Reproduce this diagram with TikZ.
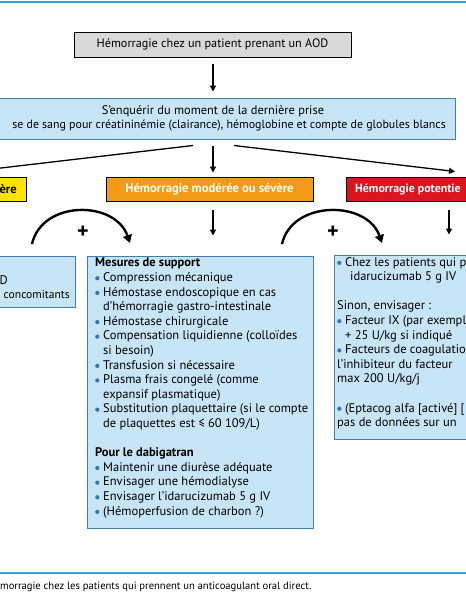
\documentclass[tikz,border=0pt]{standalone}
\usepackage{fontspec}
\setmainfont{PT Sans}
\usetikzlibrary{arrows.meta,positioning}
\definecolor{rulecol}{HTML}{2AA6DA}
\definecolor{grayfill}{HTML}{D9D9D9}
\definecolor{boxfill}{HTML}{C8E5F7}
\definecolor{boxline}{HTML}{3F7DB3}
\definecolor{bulcol}{HTML}{2A78BD}
\definecolor{lightcol}{HTML}{FFE300}
\definecolor{modcol}{HTML}{F39B16}
\definecolor{sevcol}{HTML}{D9161F}
\newcommand{\itm}{\makebox[8pt][l]{\raisebox{1.2pt}{\tikz\fill[bulcol] (0,0) circle (2.1pt);}}}
\newcommand{\ind}{\hspace*{8pt}}

\begin{document}
\begin{tikzpicture}[x=1pt, y=-1pt,
  box/.style={draw=boxline, fill=boxfill, line width=1pt, inner sep=0pt},
  lvl/.style={draw=black, line width=1pt, inner sep=0pt, minimum height=24pt},
  head/.style={inner sep=0pt, font=\fontsize{12.6}{14}\selectfont\bfseries},
  txt/.style={inner sep=0pt, align=left, font=\fontsize{12.5}{14.6}\selectfont},
  arr/.style={-{Triangle[length=6pt,width=6pt]}, line width=1.3pt},
  curv/.style={-{Triangle[length=8pt,width=9pt]}, line width=2.4pt}
]
  \useasboundingbox (0,0) rectangle (466,600);
  \draw[rulecol, line width=1.2pt] (0,2) -- (466,2);
  \draw[rulecol, line width=1.2pt] (0,573) -- (466,573);
  \coordinate (axis) at (213,0);

  % start and first step
  \node[draw, fill=grayfill, line width=1pt, minimum width=277pt, minimum height=25pt,
        font=\fontsize{12.2}{14}\selectfont] (start) at (212.5,44.5)
        {Hémorragie chez un patient prenant un AOD};
  \node[box, minimum width=484pt, minimum height=41pt] (enq) at (213,118.5) {};
  \node[txt, font=\fontsize{12.4}{14}\selectfont] (enq1) at (213,111) {S’enquérir du moment de la dernière prise};
  \node[txt, font=\fontsize{11.9}{14}\selectfont, anchor=east] (enq2) at (446,126)
        {se de sang pour créatininémie (clairance), hémoglobine et compte de globules blancs};
  \draw[arr, shorten <=6pt, shorten >=6pt] (start.south -| axis) -- (enq.north -| axis);

  % severity levels
  \node[lvl, fill=lightcol, minimum width=110pt] (light) at (-29,189) {};
  \node[head, anchor=east] (lighttxt) at (17,189) {ère};
  \node[lvl, fill=modcol, minimum width=207pt] (mod) at (209.5,189) {};
  \node[head, text=white] (modtxt) at (209.5,189) {Hémorragie modérée ou sévère};
  \node[lvl, fill=sevcol, minimum width=218pt] (sev) at (455,189) {};
  \node[head, text=white, anchor=west, font=\fontsize{11.9}{14}\selectfont\bfseries] (sevtxt) at (355,189) {Hémorragie potentie};

  \draw[arr] ([xshift=-20pt,yshift=-6pt]enq.south) -- ([yshift=5pt]light.north);
  \draw[arr, shorten <=6pt, shorten >=4pt] (enq.south -| axis) -- (mod.north -| axis);
  \draw[arr] ([xshift=21pt,yshift=-6pt]enq.south) -- ([yshift=5pt]sev.north);

  % measures
  \node[box, minimum width=175pt, minimum height=51pt] (bl) at (-12.5,281.5) {};
  \node[txt, anchor=east] (bl1) at (8,280) {D};
  \node[txt, anchor=east, font=\fontsize{11.6}{14}\selectfont] (bl2) at (70,294) {concomitants};

  \node[box, minimum width=226pt, minimum height=272pt] (bm) at (200,392) {};
  \node[txt, anchor=north west] (bmtxt) at (95,258) {%
    \textbf{Mesures de support}\\
    \itm Compression mécanique\\
    \itm Hémostase endoscopique en cas\\
    \ind d’hémorragie gastro-intestinale\\
    \itm Hémostase chirurgicale\\
    \itm Compensation liquidienne (colloïdes\\
    \ind si besoin)\\
    \itm Transfusion si nécessaire\\
    \itm Plasma frais congelé (comme\\
    \ind expansif plasmatique)\\
    \itm Substitution plaquettaire (si le compte\\
    \ind de plaquettes est ≤ 60 109/L)\\[14.6pt]
    \textbf{Pour le dabigatran}\\
    \itm Maintenir une diurèse adéquate\\
    \itm Envisager une hémodialyse\\
    \itm Envisager l’idarucizumab 5 g IV\\
    \itm (Hémoperfusion de charbon ?)};

  \node[box, minimum width=230pt, minimum height=184pt] (br) at (449,347) {};
  \node[txt, anchor=north west] (brtxt) at (337,257) {%
    \itm Chez les patients qui p\\
    \hspace*{13pt}idarucizumab 5 g IV\\[14.6pt]
    Sinon, envisager :\\
    \itm Facteur IX (par exempl\\
    \ind + 25 U/kg si indiqué\\
    \itm Facteurs de coagulatio\\
    l’inhibiteur du facteur\\
    max 200 U/kg/j\\[14.6pt]
    \itm (Eptacog alfa [activé] [\\
    pas de données sur un};

  \draw[arr, shorten <=8pt, shorten >=20pt] (mod.south -| axis) -- (bm.north -| axis);
  \draw[arr, shorten <=8pt, shorten >=20pt] (sev.south -| br.north) -- (br.north);

  % combined with
  \coordinate (c1a) at (32,244);
  \coordinate (c1b) at (130,243);
  \coordinate (c2a) at (282,244);
  \coordinate (c2b) at (382,243);
  \draw[curv] (c1a) .. controls (42,200) and (115,200) .. (c1b);
  \draw[curv] (c2a) .. controls (292,200) and (367,200) .. (c2b);
  \node[font=\fontsize{22}{22}\selectfont\bfseries] (plus1) at (83,232) {+};
  \node[font=\fontsize{22}{22}\selectfont\bfseries] (plus2) at (333,232) {+};

  \node[inner sep=0pt, anchor=base west, font=\fontsize{10.6}{12}\selectfont] (cap) at (0,589)
        {morragie chez les patients qui prennent un anticoagulant oral direct.};
\end{tikzpicture}
\end{document}
